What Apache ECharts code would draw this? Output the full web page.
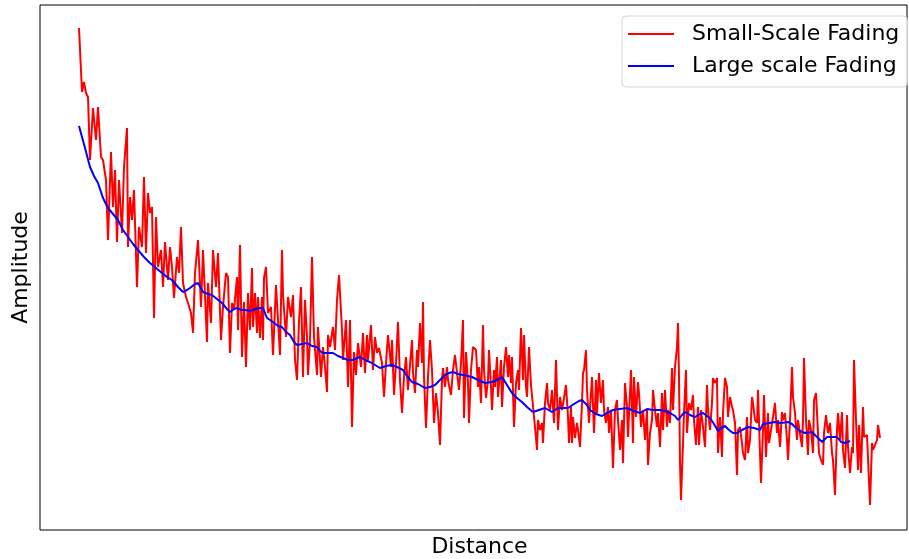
<!DOCTYPE html>
<html>
<head>
<meta charset="utf-8">
<script src="https://cdn.jsdelivr.net/npm/echarts@6/dist/echarts.min.js"></script>
<style>html,body{margin:0;padding:0;background:#fff;}#c{width:909px;height:559px;}</style>
</head>
<body>
<div id="c"></div>
<script>
// Small-scale fading: distance / amplitude (arbitrary units)
const smallDist = [0,3,5,7,9,11,14,17,19,22,24,27,29,32,34,36,38,40,43,45,48,49,51,53,55,58,60,63,65,67,69,71,73,75,77,79,82,84,86,89,91,93,95,98,100,102,104,107,109,112,114,116,119,122,124,128,129,132,134,137,139,142,144,147,149,151,153,155,158,159,161,163,165,167,169,171,173,174,176,178,179,181,183,184,185,187,189,192,194,197,199,201,203,204,207,209,212,214,216,218,220,222,224,226,228,229,231,233,235,238,239,242,244,246,248,249,251,254,256,258,260,263,264,267,269,271,273,275,277,279,282,284,286,288,289,292,294,296,298,300,303,305,307,309,312,313,315,317,319,321,323,325,327,329,331,333,334,336,338,339,341,343,344,345,347,349,351,353,355,357,359,361,363,364,366,368,369,372,374,376,378,380,382,384,385,387,389,390,392,394,397,399,400,402,404,405,407,409,410,412,413,415,416,418,419,422,423,425,427,429,430,432,433,435,437,439,440,442,444,445,447,448,450,452,454,456,458,459,461,463,464,466,468,469,471,473,475,477,479,481,483,485,487,489,490,492,493,494,496,498,499,501,503,504,505,507,508,510,512,513,515,517,518,520,522,524,525,527,529,530,532,534,536,538,539,541,543,544,546,548,549,552,554,555,557,559,560,562,564,566,568,569,571,573,574,576,578,579,581,583,584,586,588,589,591,593,594,596,598,599,600,601,602,604,605,607,608,610,612,614,615,617,619,620,622,624,626,628,629,631,633,634,636,638,639,641,643,644,646,648,649,651,653,654,656,658,659,661,663,664,666,668,669,671,673,674,676,678,679,681,682,684,685,687,689,690,692,694,696,698,699,701,703,704,706,708,709,711,713,714,716,718,719,721,723,724,725,727,729,730,732,734,735,737,739,740,742,744,745,747,749,751,753,754,756,758,759,761,763,764,766,768,769,771,773,774,775,777,779,780,782,784,785,788,789,791,793,794,796,798,799,801];
const smallAmp = [5.01,4.37,4.47,4.36,4.32,3.69,4.21,3.89,4.22,3.72,3.69,3.49,2.89,3.77,3.22,3.59,2.87,3.49,2.96,3.62,4.01,2.82,3.32,3.09,3.39,2.42,3.02,2.82,3.52,2.76,3.36,3.16,3.22,2.11,3.12,2.62,2.79,2.42,2.87,2.49,2.82,2.62,2.31,2.72,2.56,3.02,2.46,2.32,2.26,2.16,1.96,2.56,2.89,2.22,2.79,1.87,2.46,2.06,2.79,2.42,2.76,1.89,2.22,2.56,2.52,1.76,2.26,2.19,2.52,1.99,2.84,1.72,2.27,1.62,2.36,1.99,2.61,2.02,2.36,1.96,2.32,1.91,2.32,1.89,2.51,2.62,2.16,2.22,1.74,2.44,2.09,1.74,2.79,2.34,1.92,2.32,2.12,2.34,1.69,1.49,2.07,2.42,1.52,2.29,1.92,1.54,1.89,2.72,1.92,1.54,2.02,1.52,1.82,1.62,1.37,1.94,1.82,2.02,1.79,2.29,2.54,1.99,1.69,2.09,1.42,2.09,1.02,1.77,1.54,1.86,1.62,1.96,1.56,1.94,1.69,2.04,1.59,1.92,1.76,1.81,1.66,1.32,1.66,1.94,1.62,1.89,1.34,1.66,2.07,1.49,1.16,1.52,1.72,1.39,1.39,1.89,1.56,1.36,1.79,1.62,2.06,1.66,2.27,1.52,1.01,1.52,1.89,1.59,1.06,1.36,1.16,0.84,1.49,1.61,1.42,1.62,1.49,1.34,1.59,1.74,1.56,1.39,1.66,2.09,1.11,1.77,1.46,1.06,1.59,1.82,1.79,1.42,1.62,1.26,2.04,1.59,1.31,1.49,1.79,1.42,1.19,1.59,1.42,1.72,1.32,1.69,1.22,1.62,1.82,1.52,1.74,1.46,1.72,1.02,1.46,1.59,1.39,2.01,1.49,1.94,1.42,1.32,1.82,1.44,1.42,1.02,0.79,1.09,0.99,1.06,0.86,1.26,1.46,1.26,1.19,1.39,1.06,1.69,0.99,1.32,1.19,1.31,1.44,1.12,0.86,1.22,0.86,1.12,0.91,1.06,0.99,0.82,1.26,1.56,1.59,1.79,1.39,1.06,1.36,1.52,0.96,1.49,1.16,1.56,1.26,1.49,1.19,1.06,1.22,0.96,1.19,0.61,1.19,1.29,1.09,0.79,1.09,0.66,1.46,1.22,0.92,1.59,0.86,1.52,1.12,1.47,1.36,1.02,1.19,0.89,1.19,0.64,0.96,1.09,1.39,1.19,1.02,1.16,0.82,1.36,0.99,1.39,1.02,1.19,1.06,1.61,1.19,1.62,1.82,2.06,1.52,0.66,0.29,0.86,1.16,1.59,0.96,1.26,1.19,1.34,1.09,0.84,1.22,0.84,1.19,1.02,0.82,1.44,1.19,0.99,1.26,1.51,1.46,1.51,0.76,1.12,0.72,1.16,1.51,1.42,1.12,1.32,1.22,1.19,1.06,0.54,0.99,1.02,0.86,0.76,0.69,1.12,0.76,0.89,1.32,1.26,1.09,1.06,1.39,0.76,0.46,0.99,1.34,0.72,1.16,0.86,0.99,1.12,1.26,0.96,1.09,0.82,1.17,1.09,1.16,0.89,0.69,1.09,1.62,1.32,1.16,0.89,1.09,1.11,0.82,1.09,1.71,1.09,0.74,1.09,0.99,0.76,1.29,1.36,0.96,0.76,0.69,0.64,0.96,1.14,0.96,1.06,0.76,0.69,0.34,0.99,1.16,0.89,1.17,0.79,0.61,1.14,0.82,0.56,0.82,0.76,1.69,1.09,0.59,1.04,0.56,1.22,0.92,0.94,0.92,0.24,0.86,0.79,0.79,0.89,1.04,0.91];

// Large-scale fading (local mean)
const largeDist = [0,1,6,11,15,19,24,29,34,39,44,49,54,59,65,71,77,83,88,93,99,104,108,111,116,119,124,129,133,138,143,148,151,155,158,162,166,171,176,181,184,188,194,199,203,207,211,215,218,223,228,233,238,241,244,249,254,259,264,269,274,278,281,286,291,296,301,307,313,318,324,328,333,339,346,351,356,361,366,370,374,379,384,389,393,399,406,413,418,423,428,433,438,443,448,454,460,466,473,479,484,489,495,500,503,507,511,517,523,528,534,541,548,555,561,568,574,581,586,591,596,599,603,606,611,616,621,624,628,631,635,639,642,646,650,654,658,663,669,675,681,684,690,696,702,709,713,716,721,726,733,738,743,748,753,758,762,766,771];
const largeAmp = [4.03,4.02,3.81,3.62,3.53,3.46,3.31,3.21,3.15,3.09,2.99,2.92,2.85,2.79,2.72,2.66,2.61,2.56,2.52,2.49,2.42,2.37,2.39,2.41,2.45,2.46,2.37,2.35,2.34,2.30,2.26,2.20,2.17,2.20,2.21,2.19,2.19,2.18,2.20,2.21,2.21,2.11,2.07,2.03,2.02,1.97,1.94,1.87,1.84,1.85,1.86,1.83,1.82,1.78,1.76,1.76,1.76,1.73,1.71,1.69,1.69,1.71,1.72,1.69,1.67,1.64,1.61,1.63,1.64,1.62,1.59,1.53,1.47,1.45,1.41,1.42,1.44,1.49,1.54,1.56,1.57,1.55,1.54,1.53,1.52,1.49,1.46,1.47,1.49,1.52,1.44,1.36,1.31,1.27,1.22,1.17,1.19,1.21,1.17,1.21,1.21,1.21,1.25,1.28,1.29,1.25,1.19,1.15,1.13,1.16,1.19,1.20,1.21,1.18,1.16,1.20,1.19,1.19,1.18,1.16,1.13,1.09,1.14,1.17,1.14,1.12,1.15,1.16,1.13,1.11,1.05,0.98,1.01,1.03,0.99,0.96,0.96,0.99,1.02,1.01,0.99,1.05,1.06,1.07,1.06,1.07,1.05,1.02,0.98,0.96,0.97,0.92,0.87,0.92,0.92,0.92,0.87,0.86,0.88];

const seriesNames = ['Small-Scale Fading', 'Large scale Fading'];
const axisNames = {x: 'Distance', y: 'Amplitude'};

const pairs = (xs, ys) => xs.map((x, i) => [x, ys[i]]);
const FONT = 'DejaVu Sans';
const FS = 22;

const chart = echarts.init(document.getElementById('c'), null, {renderer: 'canvas'});
chart.setOption({
  animation: false,
  backgroundColor: '#fff',
  grid: {left: 40, right: 2, top: 5, bottom: 29, outerBoundsMode: 'none', containLabel: false,
         show: true, borderColor: '#000', borderWidth: 1, backgroundColor: 'transparent'},
  xAxis: {
    type: 'value', min: -39, max: 828,
    name: axisNames.x, nameLocation: 'middle', nameGap: 6,
    nameTextStyle: {fontFamily: FONT, fontSize: FS, color: '#000', padding: [0, 0, 0, 12]},
    axisLine: {show: false}, axisTick: {show: false}, axisLabel: {show: false}, splitLine: {show: false}
  },
  yAxis: {
    type: 'value', min: -0.01, max: 5.24,
    name: axisNames.y, nameLocation: 'middle', nameGap: 8,
    nameTextStyle: {fontFamily: FONT, fontSize: FS, color: '#000'},
    axisLine: {show: false}, axisTick: {show: false}, axisLabel: {show: false}, splitLine: {show: false}
  },
  legend: {
    left: 622, top: 16, orient: 'vertical',
    icon: 'rect', itemWidth: 46, itemHeight: 2, itemGap: 8,
    padding: [6, 8, 9, 6],
    backgroundColor: 'rgba(255,255,255,0.8)', borderColor: '#d4d4d4', borderWidth: 1, borderRadius: 4,
    textStyle: {fontFamily: FONT, fontSize: FS, color: '#000', lineHeight: 24, padding: [0, 0, 0, 13]},
    data: seriesNames
  },
  series: [
    {name: seriesNames[0], type: 'line', data: pairs(smallDist, smallAmp), showSymbol: false, color: '#ff0000', lineStyle: {width: 2, color: '#ff0000'}, z: 2},
    {name: seriesNames[1], type: 'line', data: pairs(largeDist, largeAmp), showSymbol: false, color: '#0000ff', lineStyle: {width: 2, color: '#0000ff'}, z: 3}
  ]
});
</script>
</body>
</html>
